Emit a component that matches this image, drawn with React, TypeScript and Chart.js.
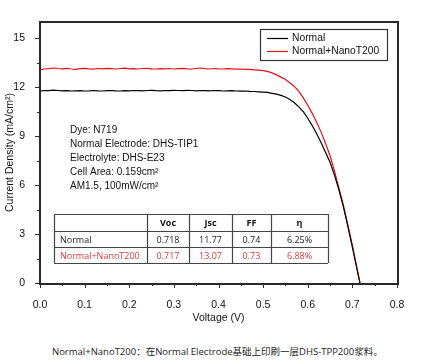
import React, { useEffect, useRef } from "react";
import { Chart, registerables } from "chart.js";

Chart.register(...registerables);

// ---------- data ----------
const voltage: number[] = [
  0.0, 0.01, 0.02, 0.03, 0.04, 0.05, 0.06, 0.07, 0.08, 0.09,
  0.1, 0.11, 0.12, 0.13, 0.14, 0.15, 0.16, 0.17, 0.18, 0.19,
  0.2, 0.21, 0.22, 0.23, 0.24, 0.25, 0.26, 0.27, 0.28, 0.29,
  0.3, 0.31, 0.32, 0.33, 0.34, 0.35, 0.36, 0.37, 0.38, 0.39,
  0.4, 0.41, 0.42, 0.43, 0.44, 0.45, 0.46, 0.47, 0.48, 0.49,
  0.5, 0.51, 0.52, 0.53, 0.54, 0.55, 0.56, 0.57, 0.58, 0.59,
  0.6, 0.61, 0.62, 0.63, 0.64, 0.65, 0.66, 0.67, 0.68, 0.69,
  0.7, 0.71, 0.717,
];

const currentNormal: number[] = [
  11.76, 11.8, 11.79, 11.82, 11.8, 11.78, 11.79, 11.77, 11.78, 11.79,
  11.77, 11.78, 11.8, 11.78, 11.77, 11.79, 11.8, 11.78, 11.77, 11.79,
  11.78, 11.8, 11.79, 11.78, 11.8, 11.81, 11.79, 11.78, 11.8, 11.79,
  11.81, 11.8, 11.79, 11.81, 11.8, 11.78, 11.8, 11.79, 11.78, 11.8,
  11.79, 11.77, 11.78, 11.79, 11.77, 11.76, 11.77, 11.75, 11.74, 11.72,
  11.7, 11.68, 11.63, 11.58, 11.5, 11.4, 11.25, 11.05, 10.8, 10.5,
  10.1, 9.65, 9.15, 8.6, 8.0, 7.4, 6.6, 5.7, 4.65, 3.45,
  2.2, 0.9, 0.0,
];

const currentNano: number[] = [
  13.08, 13.12, 13.14, 13.18, 13.15, 13.13, 13.16, 13.12, 13.1, 13.14,
  13.16, 13.13, 13.11, 13.15, 13.13, 13.16, 13.14, 13.12, 13.15, 13.17,
  13.13, 13.14, 13.12, 13.15, 13.16, 13.13, 13.12, 13.14, 13.13, 13.15,
  13.12, 13.14, 13.16, 13.13, 13.12, 13.15, 13.18, 13.14, 13.12, 13.15,
  13.13, 13.12, 13.14, 13.13, 13.11, 13.12, 13.1, 13.09, 13.07, 13.05,
  13.02, 12.97, 12.88, 12.76, 12.62, 12.47, 12.28, 12.05, 11.75, 11.35,
  10.9, 10.4, 9.85, 9.25, 8.55, 7.8, 6.85, 5.8, 4.75, 3.55,
  2.3, 0.95, 0.0,
];

const seriesNames: string[] = ["Normal", "Normal+NanoT200"];
const seriesColors: string[] = ["#000000", "#e8101c"];

const infoLines: string[] = [
  "Dye: N719",
  "Normal Electrode: DHS-TIP1",
  "Electrolyte: DHS-E23",
  "Cell Area: 0.159cm²",
  "AM1.5, 100mW/cm²",
];

const tableHeader: string[] = ["", "Voc", "Jsc", "FF", "η"];
const tableNormal: string[] = ["Normal", "0.718", "11.77", "0.74", "6.25%"];
const tableNano: string[] = ["Normal+NanoT200", "0.717", "13.07", "0.73", "6.88%"];

const xMajorTicks: number[] = [0, 0.1, 0.2, 0.3, 0.4, 0.5, 0.6, 0.7, 0.8];
const yMajorTicks: number[] = [0, 3, 6, 9, 12, 15];

const caption = "Normal+NanoT200：在Normal Electrode基础上印刷一层DHS-TPP200浆料。";

const FONT = "'Liberation Sans', Arial, sans-serif";
const TABLE_FONT = "'Open Sans', 'Noto Sans', sans-serif";

const overlayPlugin = {
  id: "overlay",
  afterDraw(chart: any) {
    const ctx: CanvasRenderingContext2D = chart.ctx;
    const ca = chart.chartArea;
    const xs = chart.scales.x;
    const ys = chart.scales.y;
    ctx.save();
    ctx.setLineDash([]);
    ctx.globalAlpha = 1;
    const l = Math.round(ca.left);
    const r = Math.round(ca.right);
    const t = Math.round(ca.top);
    const b = Math.round(ca.bottom);

    // frame (2px bars)
    ctx.fillStyle = "#2a2a2a";
    ctx.fillRect(l - 1, t - 1, r - l + 3, 2);
    ctx.fillRect(l - 1, b, r - l + 3, 2);
    ctx.fillRect(l - 1, t - 1, 2, b - t + 3);
    ctx.fillRect(r, t - 1, 2, b - t + 3);

    // ticks
    for (let i = 0; i < xMajorTicks.length; i++) {
      const px = Math.round(xs.getPixelForValue(xMajorTicks[i]));
      ctx.fillRect(px, b, 1, 5);
      if (i < xMajorTicks.length - 1) {
        const mid = (xMajorTicks[i] + xMajorTicks[i + 1]) / 2;
        const pm = Math.round(xs.getPixelForValue(mid));
        ctx.fillRect(pm, b, 1, 3);
      }
    }
    for (let i = 0; i < yMajorTicks.length; i++) {
      const v = yMajorTicks[i];
      const py = Math.round(ys.getPixelForValue(v));
      ctx.fillRect(l - 5, py, 5, 1);
      const pm = Math.round(ys.getPixelForValue(v + 1.5));
      if (pm > t) ctx.fillRect(l - 3, pm, 3, 1);
    }

    // legend
    const lx = l + 220;
    const ly = t + 7;
    ctx.fillStyle = "#fff";
    ctx.fillRect(lx, ly, 127, 31);
    ctx.strokeStyle = "#333";
    ctx.lineWidth = 1.2;
    ctx.strokeRect(lx + 0.5, ly + 0.5, 127, 31);
    ctx.font = `10.3px ${FONT}`;
    ctx.textBaseline = "middle";
    ctx.textAlign = "left";
    for (let i = 0; i < seriesNames.length; i++) {
      const yy = ly + 9.5 + i * 13;
      ctx.strokeStyle = seriesColors[i];
      ctx.lineWidth = 1.2;
      ctx.beginPath();
      ctx.moveTo(lx + 7, yy);
      ctx.lineTo(lx + 28, yy);
      ctx.stroke();
      ctx.fillStyle = "#111";
      ctx.fillText(seriesNames[i], lx + 32, yy);
    }

    // info text
    ctx.font = `10px ${FONT}`;
    ctx.fillStyle = "#111";
    for (let i = 0; i < infoLines.length; i++) {
      ctx.fillText(infoLines[i], l + 30, t + 108 + i * 14);
    }

    // table
    const colX = [54, 147, 189, 232, 271, 328];
    const rowY = [214, 231, 247, 263];
    ctx.fillStyle = "#fff";
    ctx.fillRect(colX[0], rowY[0], colX[5] - colX[0], rowY[3] - rowY[0]);
    ctx.strokeStyle = "#444";
    ctx.lineWidth = 1.2;
    ctx.beginPath();
    for (const y of rowY) {
      ctx.moveTo(colX[0], y + 0.5);
      ctx.lineTo(colX[5], y + 0.5);
    }
    for (const x of colX) {
      ctx.moveTo(x + 0.5, rowY[0]);
      ctx.lineTo(x + 0.5, rowY[3]);
    }
    ctx.stroke();
    const rows = [tableHeader, tableNormal, tableNano];
    const rowColors = ["#111", "#222", "#e03a3a"];
    for (let rr = 0; rr < rows.length; rr++) {
      const cy = (rowY[rr] + rowY[rr + 1]) / 2 + 1;
      ctx.fillStyle = rowColors[rr];
      ctx.font = rr === 0 ? `bold 9px ${TABLE_FONT}` : `9px ${TABLE_FONT}`;
      for (let c = 0; c < 5; c++) {
        const txt = rows[rr][c];
        if (!txt) continue;
        if (c === 0) {
          ctx.textAlign = "left";
          ctx.fillText(txt, colX[0] + 6, cy);
        } else {
          ctx.textAlign = "center";
          ctx.fillText(txt, (colX[c] + colX[c + 1]) / 2, cy);
        }
      }
    }
    ctx.restore();
  },
};

export default function App() {
  const canvasRef = useRef<HTMLCanvasElement | null>(null);

  useEffect(() => {
    if (!canvasRef.current) return;
    const chart = new Chart(canvasRef.current, {
      type: "line",
      data: {
        datasets: [
          {
            label: seriesNames[0],
            data: voltage.map((v, i) => ({ x: v, y: currentNormal[i] })),
            borderColor: seriesColors[0],
            borderWidth: 1.2,
            pointRadius: 0,
            tension: 0,
            fill: false,
          },
          {
            label: seriesNames[1],
            data: voltage.map((v, i) => ({ x: v, y: currentNano[i] })),
            borderColor: seriesColors[1],
            borderWidth: 1.2,
            pointRadius: 0,
            tension: 0,
            fill: false,
          },
        ],
      },
      options: {
        animation: false,
        responsive: false,
        maintainAspectRatio: false,
        layout: { padding: { left: 0, right: 24, top: 22, bottom: 0 } },
        plugins: {
          legend: { display: false },
          tooltip: { enabled: false },
        },
        scales: {
          x: {
            type: "linear",
            min: 0,
            max: 0.8,
            grid: { display: false },
            border: { display: false },
            ticks: {
              stepSize: 0.1,
              padding: 8,
              color: "#111",
              font: { family: FONT, size: 10.5 },
              callback: (v: any) => Number(v).toFixed(1),
            },
            title: {
              display: true,
              text: "Voltage (V)",
              color: "#111",
              font: { family: FONT, size: 10.5 },
              padding: { top: 0, bottom: 6 },
            },
            afterFit: (s: any) => {
              s.height = 47;
            },
          },
          y: {
            type: "linear",
            min: 0,
            max: 16,
            grid: { display: false },
            border: { display: false },
            ticks: {
              stepSize: 3,
              includeBounds: false,
              padding: 7,
              color: "#111",
              font: { family: FONT, size: 10.5 },
              callback: (v: any) => (Number(v) % 3 === 0 && Number(v) <= 15 ? String(v) : ""),
            },
            title: {
              display: true,
              text: "Current Density (mA/cm²)",
              color: "#111",
              font: { family: FONT, size: 10.5 },
              padding: { top: 4, bottom: 0 },
            },
            afterFit: (s: any) => {
              s.width = 40;
            },
          },
        },
      },
      plugins: [overlayPlugin],
    } as any);
    return () => chart.destroy();
  }, []);

  return (
    <div style={{ position: "absolute", left: 0, top: 0, width: 421, height: 363, background: "#fff" }}>
      <canvas ref={canvasRef} width={421} height={330} style={{ width: 421, height: 330, display: "block" }} />
      <div
        style={{
          position: "absolute",
          left: 52,
          top: 345,
          fontFamily: TABLE_FONT + ", 'Noto Sans CJK SC'",
          fontSize: 9.5,
          lineHeight: "14px",
          color: "#222",
          whiteSpace: "nowrap",
        }}
      >
        {caption}
      </div>
    </div>
  );
}
